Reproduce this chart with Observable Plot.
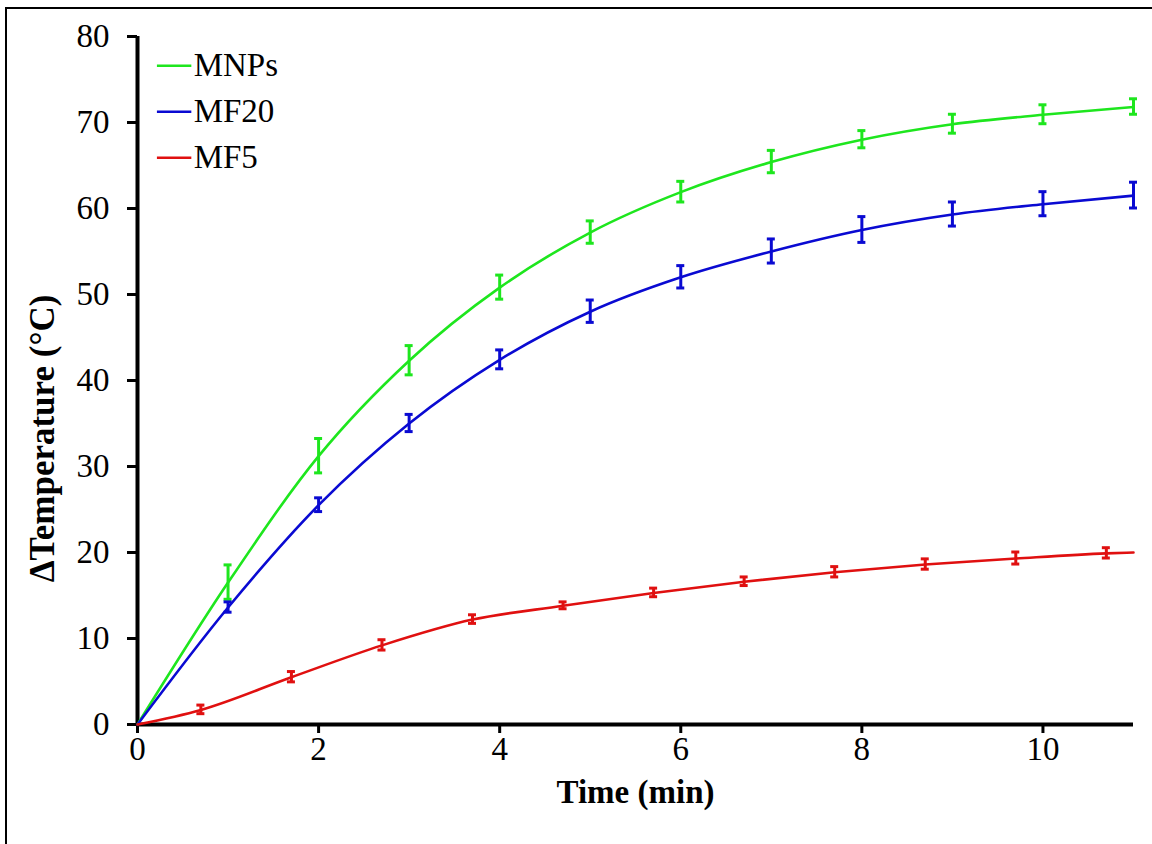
<!DOCTYPE html>
<html>
<head>
<meta charset="utf-8">
<script src="https://cdn.jsdelivr.net/npm/d3@7"></script>
<script src="https://cdn.jsdelivr.net/npm/@observablehq/plot@0.6"></script>
<style>
  body { margin: 0; background: #fff; }
  #chart svg { display: block; }
</style>
</head>
<body>
<div id="chart"></div>
<script>
// ---- data ----
const seriesNames = ["MNPs", "MF20", "MF5"];
const seriesColors = ["#1ee61e", "#0a0ad2", "#e01010"];

const timeMain = [0, 1, 2, 3, 4, 5, 6, 7, 8, 9, 10, 11];
const mnpsValues = [0, 16.5, 31.2, 42.3, 50.8, 57.2, 61.9, 65.4, 68.0, 69.8, 70.9, 71.8];
const mnpsErrors = [null, 2.0, 2.0, 1.7, 1.4, 1.3, 1.2, 1.3, 1.0, 1.1, 1.1, 0.9];
const mf20Values = [0, 13.6, 25.5, 35.0, 42.4, 48.0, 52.0, 55.0, 57.5, 59.3, 60.5, 61.5];
const mf20Errors = [null, 0.6, 0.8, 1.0, 1.1, 1.3, 1.3, 1.4, 1.5, 1.4, 1.4, 1.5];

const timeMF5 = [0, 0.7, 1.7, 2.7, 3.7, 4.7, 5.7, 6.7, 7.7, 8.7, 9.7, 10.7, 11];
const mf5Values = [0, 1.7, 5.5, 9.2, 12.2, 13.8, 15.3, 16.6, 17.7, 18.6, 19.3, 19.9, 20.0];
const mf5Errors = [null, 0.5, 0.6, 0.6, 0.5, 0.4, 0.5, 0.5, 0.6, 0.6, 0.7, 0.6, null];

const xTicks = [0, 2, 4, 6, 8, 10];
const yTicks = [0, 10, 20, 30, 40, 50, 60, 70, 80];
const xLabel = "Time (min)";
const yLabel = "\u0394Temperature (\u00b0C)";

// ---- build rows ----
function rows(name, xs, ys, es) {
  return xs.map((t, i) => ({series: name, t, v: ys[i], e: es[i]}));
}
const data = [
  ...rows("MNPs", timeMain, mnpsValues, mnpsErrors),
  ...rows("MF20", timeMain, mf20Values, mf20Errors),
  ...rows("MF5", timeMF5, mf5Values, mf5Errors)
];
const errData = data.filter(d => d.e != null);
const legendData = seriesNames.map((s, i) => ({series: s, i}));

const font = "'Liberation Serif', 'Times New Roman', serif";
const colorScale = {domain: seriesNames, range: seriesColors};
const fs = 33;

const plot = Plot.plot({
  width: 1152,
  height: 844,
  marginLeft: 137,
  marginRight: 19,
  marginTop: 36,
  marginBottom: 120,
  style: {fontFamily: font, background: "#fff", color: "#000"},
  x: {type: "linear", domain: [0, 11]},
  y: {type: "linear", domain: [0, 80]},
  color: colorScale,
  marks: [
    Plot.axisX({ticks: xTicks, tickSize: 9, tickPadding: 3, tickFormat: d => String(d),
      fontSize: fs, strokeWidth: 3, label: null}),
    Plot.axisY({ticks: yTicks, tickSize: 10, tickPadding: 18, tickFormat: d => String(d),
      fontSize: fs, strokeWidth: 3, label: null}),
    Plot.ruleY([0], {stroke: "#000", strokeWidth: 4}),
    Plot.ruleX([0], {stroke: "#000", strokeWidth: 4}),
    Plot.line(data, {x: "t", y: "v", z: "series", stroke: "series", strokeWidth: 2.6, curve: "monotone-x"}),
    Plot.ruleX(errData, {x: "t", y1: d => d.v - d.e, y2: d => d.v + d.e, stroke: "series", strokeWidth: 3}),
    // legend
    Plot.ruleY(legendData, {x1: 0.22, x2: 0.6, y: d => 76.6 - d.i * 5.35, stroke: "series", strokeWidth: 2.6}),
    Plot.text(legendData, {x: 0.62, y: d => 76.6 - d.i * 5.35, text: "series", textAnchor: "start",
      fontSize: fs, fill: "#000"}),
    // axis titles
    Plot.text([xLabel], {frameAnchor: "bottom", dy: 78, fontSize: fs, fontWeight: "bold", fill: "#000"}),
    Plot.text([yLabel], {frameAnchor: "left", textAnchor: "middle", dx: -95, dy: 58, rotate: -90,
      fontSize: 35, fontWeight: "bold", fill: "#000"})
  ]
});

document.getElementById("chart").append(plot);

// error bar caps (drawn via d3 using the plot's scales)
const sx = plot.scale("x"), sy = plot.scale("y");
const svg = d3.select(plot);
const capG = svg.append("g");
errData.forEach(d => {
  const col = seriesColors[seriesNames.indexOf(d.series)];
  [d.v - d.e, d.v + d.e].forEach(val => {
    const px = sx.apply(d.t), py = sy.apply(val);
    capG.append("line").attr("x1", px - 4).attr("x2", px + 4).attr("y1", py).attr("y2", py)
      .attr("stroke", col).attr("stroke-width", 3);
  });
});
// outer border (left and top edges visible)
svg.append("rect").attr("x", 6).attr("y", 8).attr("width", 1300).attr("height", 1000)
  .attr("fill", "none").attr("stroke", "#000").attr("stroke-width", 2);
</script>
</body>
</html>
